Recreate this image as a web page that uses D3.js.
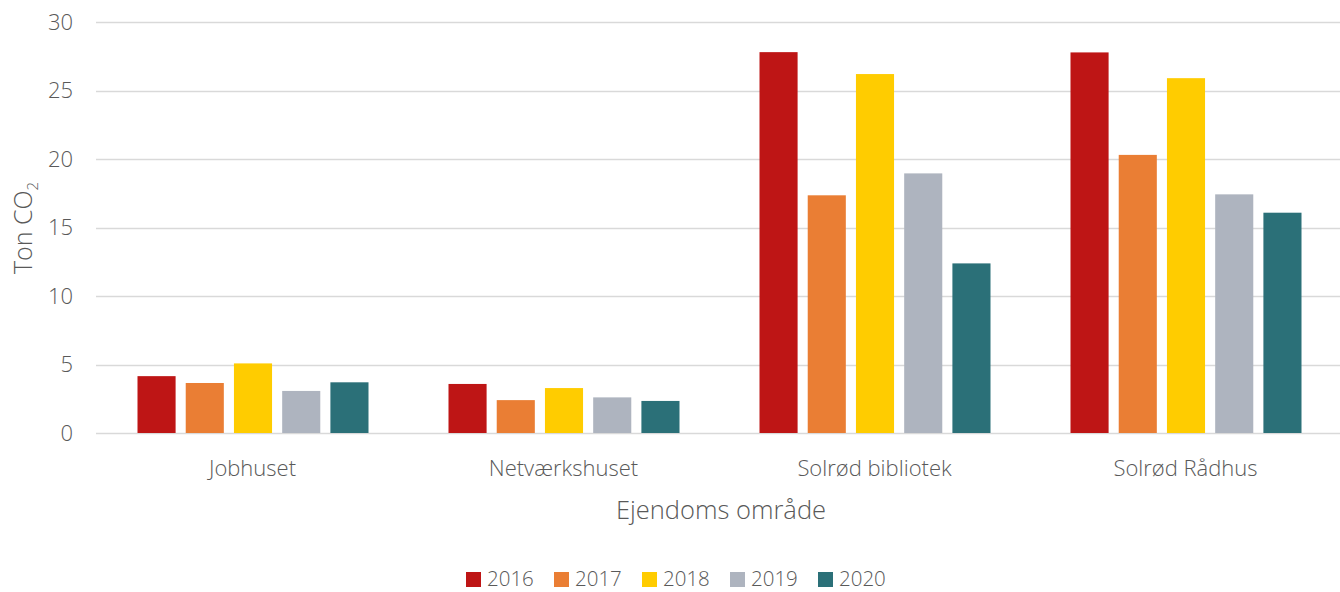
<!DOCTYPE html>
<html>
<head>
<meta charset="utf-8">
<script src="https://cdn.jsdelivr.net/npm/d3@7"></script>
<style>
  body { margin: 0; background: #fff; }
  svg text { font-family: "Open Sans", "Segoe UI", sans-serif; fill: #595959; }
</style>
</head>
<body>
<svg id="chart" width="1340" height="592"></svg>
<script>
// chart values
const categories = ["Jobhuset", "Netværkshuset", "Solrød bibliotek", "Solrød Rådhus"];
const years = ["2016", "2017", "2018", "2019", "2020"];
const colors = ["#BE1515", "#EA7E34", "#FFCC00", "#AEB4BF", "#2B7078"];
const values2016 = [4.15, 3.58, 27.8, 27.78];
const values2017 = [3.65, 2.4, 17.35, 20.3];
const values2018 = [5.08, 3.28, 26.2, 25.9];
const values2019 = [3.07, 2.6, 18.95, 17.42];
const values2020 = [3.7, 2.34, 12.38, 16.08];
const yTicks = [0, 5, 10, 15, 20, 25, 30];

const series = [values2016, values2017, values2018, values2019, values2020];

const svg = d3.select("#chart");
const margin = {left: 96, right: 0, top: 22, bottom: 159};
const width = 1340, height = 592;

const x0 = d3.scaleBand()
	.domain(categories)
	.range([margin.left, width - margin.right])
	.paddingInner(0).paddingOuter(0);

const x1 = d3.scaleBand()
	.domain(years)
	.range([41.5, x0.bandwidth() - 38.5])
	.paddingInner(0.21).paddingOuter(0);

const y = d3.scaleLinear()
	.domain([0, 30])
	.range([height - margin.bottom, margin.top]);

// gridlines
svg.append("g")
	.selectAll("line")
	.data(yTicks)
	.join("line")
	.attr("x1", margin.left)
	.attr("x2", width - margin.right)
	.attr("y1", d => Math.round(y(d)) + 0.5)
	.attr("y2", d => Math.round(y(d)) + 0.5)
	.attr("stroke", "#D9D9D9")
	.attr("stroke-width", 1.5);

// y tick labels
svg.append("g")
	.selectAll("text")
	.data(yTicks)
	.join("text")
	.attr("x", 73)
	.attr("y", d => y(d))
	.attr("dy", "0.35em")
	.attr("text-anchor", "end")
	.style("font-size", "22px")
	.style("font-weight", 300)
	.text(d => d);

// bars
const groups = svg.append("g")
	.selectAll("g")
	.data(categories)
	.join("g")
	.attr("transform", d => `translate(${x0(d)},0)`);

groups.selectAll("rect")
	.data((c, i) => years.map((yr, j) => ({year: yr, value: series[j][i], color: colors[j]})))
	.join("rect")
	.attr("x", d => x1(d.year))
	.attr("width", x1.bandwidth())
	.attr("y", d => y(d.value))
	.attr("height", d => y(0) - y(d.value))
	.attr("fill", d => d.color);

// category labels
svg.append("g")
	.selectAll("text")
	.data(categories)
	.join("text")
	.attr("x", d => x0(d) + x0.bandwidth() / 2 + 1)
	.attr("y", 476)
	.attr("text-anchor", "middle")
	.style("font-size", "22px")
	.style("font-weight", 300)
	.text(d => d);

// axis titles
svg.append("text")
	.attr("x", 721)
	.attr("y", 519)
	.attr("text-anchor", "middle")
	.style("font-size", "25.5px")
	.style("font-weight", 300)
	.text("Ejendoms område");

const yt = svg.append("text")
	.attr("transform", "translate(32,228) rotate(-90)")
	.attr("text-anchor", "middle")
	.style("font-size", "25px")
	.style("font-weight", 300);
yt.append("tspan").text("Ton CO");
yt.append("tspan").attr("dy", 6).style("font-size", "15px").text("2");

// legend
const legend = svg.append("g")
	.selectAll("g")
	.data(years)
	.join("g")
	.attr("transform", (d, i) => `translate(${466 + i * 88},572)`);

legend.append("rect")
	.attr("width", 15)
	.attr("height", 15)
	.attr("fill", (d, i) => colors[i]);

legend.append("text")
	.attr("x", 21)
	.attr("y", 7.5)
	.attr("dy", "0.34em")
	.style("font-size", "20.5px")
	.style("font-weight", 300)
	.text(d => d);
</script>
</body>
</html>
